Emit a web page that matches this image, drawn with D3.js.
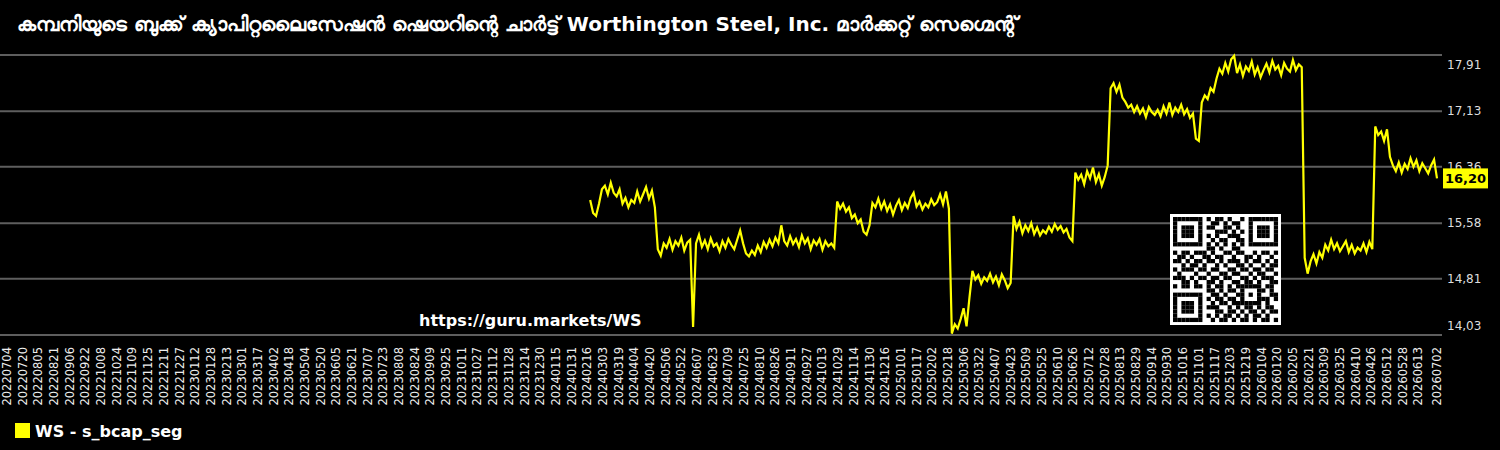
<!DOCTYPE html>
<html>
<head>
<meta charset="utf-8">
<script src="https://cdn.jsdelivr.net/npm/d3@7"></script>
<style>
  html, body { margin: 0; padding: 0; background: #000; }
  svg { display: block; font-family: "DejaVu Sans", sans-serif; }
</style>
</head>
<body>
<svg id="chart" width="1500" height="450"></svg>
<script>
// ---------- data ----------
const titleText = "കമ്പനിയുടെ ബുക്ക് ക്യാപിറ്റലൈസേഷൻ ഷെയറിന്റെ ചാർട്ട് Worthington Steel, Inc. മാർക്കറ്റ് സെഗ്മെന്റ്";
const seriesName = "WS - s_bcap_seg";
const watermark = "https://guru.markets/WS";

const axisStart = "20220704";
const axisEnd = "20260702";
const tickStepDays = 16;

const seriesStart = "20240219";   // first sample date
const sampleStepDays = 3;          // one sample every 3 days
const values = [
  // 2024-02 .. 2024-04
  15.90,15.72,15.68,15.85,16.05,16.10,15.98,16.14,16.00,15.95,16.05,15.85,15.93,15.80,15.90,15.86,16.02,15.88,15.98,16.08,15.92,16.03,15.80,
  // 2024-04 .. 2024-10
  15.22,15.13,15.30,15.24,15.36,15.21,15.33,15.27,15.38,15.20,15.31,15.35,14.14,15.30,15.42,15.25,15.34,15.22,15.37,15.26,
  15.30,15.19,15.33,15.24,15.36,15.28,15.22,15.35,15.48,15.30,15.16,15.12,15.20,15.14,15.27,15.18,15.32,15.24,15.35,15.26,
  15.38,15.30,15.55,15.33,15.27,15.40,15.29,15.36,15.25,15.41,15.30,15.37,15.22,15.34,15.28,15.36,15.21,15.33,15.26,15.30,15.24,
  // 2024-10 .. 2025-02
  15.88,15.78,15.85,15.74,15.80,15.65,15.70,15.58,15.63,15.46,15.42,15.55,15.86,15.80,15.92,15.78,15.88,15.75,15.84,15.70,
  15.82,15.90,15.76,15.86,15.79,15.93,16.00,15.81,15.88,15.77,15.85,15.80,15.91,15.83,15.87,15.98,15.84,16.02,15.78,
  // 2025-02 .. 2025-04
  14.05,14.18,14.12,14.25,14.40,14.15,14.55,14.92,14.80,14.86,14.74,14.83,14.78,14.88,14.76,14.84,14.72,14.87,14.79,14.68,14.75,
  // 2025-04 .. 2025-06
  15.68,15.50,15.60,15.44,15.55,15.47,15.58,15.43,15.52,15.41,15.48,15.44,15.53,15.46,15.57,15.49,15.54,15.45,15.50,15.38,15.33,
  // 2025-06 .. 2025-07
  16.28,16.18,16.25,16.12,16.30,16.20,16.35,16.15,16.26,16.10,16.22,16.38,
  // 2025-07 .. 2026-02
  17.45,17.52,17.40,17.50,17.32,17.26,17.18,17.22,17.12,17.20,17.10,17.17,17.05,17.19,17.12,17.08,17.15,17.06,17.20,17.10,
  17.25,17.08,17.18,17.12,17.22,17.09,17.16,17.04,17.10,16.75,16.72,17.25,17.35,17.30,17.45,17.40,17.58,17.72,17.65,17.80,
  17.68,17.85,17.90,17.66,17.78,17.62,17.75,17.69,17.82,17.64,17.74,17.60,17.70,17.79,17.67,17.83,17.71,17.76,17.63,17.80,
  17.72,17.68,17.84,17.70,17.78,17.74,
  // 2026-02 .. 2026-04
  15.10,14.88,15.05,15.15,15.02,15.18,15.10,15.28,15.20,15.35,15.22,15.30,15.19,15.26,15.33,15.18,15.28,15.16,15.24,15.20,
  15.30,15.18,15.32,15.22,
  // 2026-04 .. 2026-07
  16.92,16.80,16.85,16.72,16.88,16.50,16.38,16.30,16.42,16.28,16.40,16.33,16.48,16.36,16.45,16.30,16.41,16.34,16.27,16.38,
  16.46,16.20
];

const yTicks = [14.03, 14.81, 15.58, 16.36, 17.13, 17.91];

const qrRows = [
  "1111111010110100101111111",
  "1000001001101011001000001",
  "1011101011001101001011101",
  "1011101000111010101011101",
  "1011101010100111001011101",
  "1000001001011001101000001",
  "1111111010101010101111111",
  "0000000011010011000000000",
  "1011011101001101100101101",
  "0110100110110010011010010",
  "1101011011010111010110101",
  "0010110100101001101001011",
  "1011101101100110110110110",
  "0100010010011011001011001",
  "1110101101101100110101110",
  "0011010011010011011010011",
  "1011011010110101111110110",
  "0000000011010110100011010",
  "1111111001101001101010011",
  "1000001010110110100011101",
  "1011101001011011111110100",
  "1011101011100101011010110",
  "1011101000110110101101011",
  "1000001010101101010110100",
  "1111111001011010110101101"
];

// ---------- build ----------
const parse = d3.utcParse("%Y%m%d");
const fmt = d3.utcFormat("%Y%m%d");
const t0 = parse(axisStart), t1 = parse(axisEnd);
const s0 = parse(seriesStart);
const data = values.map((v, i) => ({ date: d3.utcDay.offset(s0, i * sampleStepDays), value: v }));

const tickDates = [];
for (let d = t0; d < d3.utcDay.offset(t1, -tickStepDays + 2); d = d3.utcDay.offset(d, tickStepDays)) tickDates.push(d);
tickDates.push(t1);

const svg = d3.select("#chart");
const plotLeft = 0, plotRight = 1442, plotTop = 55, plotBottom = 335;

const x = d3.scaleUtc().domain([t0, t1]).range([7, 1437]);
const y = d3.scaleLinear().domain([yTicks[0], yTicks[yTicks.length - 1]]).range([plotBottom, plotTop]);

// grid lines
svg.append("g").selectAll("line").data(yTicks).join("line")
  .attr("x1", plotLeft).attr("x2", plotRight)
  .attr("y1", d => y(d)).attr("y2", d => y(d))
  .attr("stroke", "#5e5e5e").attr("stroke-width", 2);

// y labels (right)
const fmtComma = v => v.toFixed(2).replace(".", ",");
svg.append("g").selectAll("text").data(yTicks).join("text")
  .attr("x", 1447)
  .attr("y", d => Math.max(64.5, Math.min(326, y(d))))
  .attr("dy", "0.35em")
  .attr("fill", "#dddddd").attr("font-size", 12)
  .text(fmtComma);

// x labels
svg.append("g").selectAll("text").data(tickDates).join("text")
  .attr("transform", d => `translate(${x(d)},347) rotate(-90)`)
  .attr("text-anchor", "end").attr("dy", "0.35em")
  .attr("fill", "#eeeeee").attr("font-size", 11.5)
  .text(d => fmt(d));

// QR code
const qrX = 1170, qrY = 214, qrSize = 111, qrMod = 4.2, qrPad = (qrSize - 25 * qrMod) / 2;
const qr = svg.append("g");
qr.append("rect").attr("x", qrX).attr("y", qrY).attr("width", qrSize).attr("height", qrSize).attr("fill", "#fff");
qrRows.forEach((row, r) => {
  row.split("").forEach((c, col) => {
    if (c === "1") qr.append("rect")
      .attr("x", qrX + qrPad + col * qrMod).attr("y", qrY + qrPad + r * qrMod)
      .attr("width", qrMod + 0.05).attr("height", qrMod + 0.05).attr("fill", "#000");
  });
});

// watermark
svg.append("text").attr("x", 419).attr("y", 326)
  .attr("fill", "#fff").attr("font-size", 16).attr("font-weight", "bold")
  .text(watermark);

// line
const line = d3.line().x(d => x(d.date)).y(d => y(d.value));
svg.append("path").datum(data)
  .attr("d", line).attr("fill", "none")
  .attr("stroke", "#ffff00").attr("stroke-width", 2.2).attr("stroke-linejoin", "miter");

// last value label
const last = data[data.length - 1];
const ly = y(last.value);
svg.append("rect").attr("x", 1443).attr("y", ly - 10).attr("width", 45).attr("height", 20).attr("fill", "#ffff00");
svg.append("text").attr("x", 1465.5).attr("y", ly).attr("dy", "0.35em")
  .attr("text-anchor", "middle").attr("font-size", 13).attr("font-weight", "bold").attr("fill", "#000")
  .text(fmtComma(last.value));

// title
svg.append("text").attr("x", 17).attr("y", 31)
  .attr("fill", "#fff").attr("font-size", 20).attr("font-weight", "bold")
  .text(titleText);

// legend
svg.append("rect").attr("x", 15).attr("y", 423).attr("width", 15).attr("height", 15).attr("fill", "#ffff00");
svg.append("text").attr("x", 35).attr("y", 437)
  .attr("fill", "#fff").attr("font-size", 16).attr("font-weight", "bold")
  .text(seriesName);
</script>
</body>
</html>
